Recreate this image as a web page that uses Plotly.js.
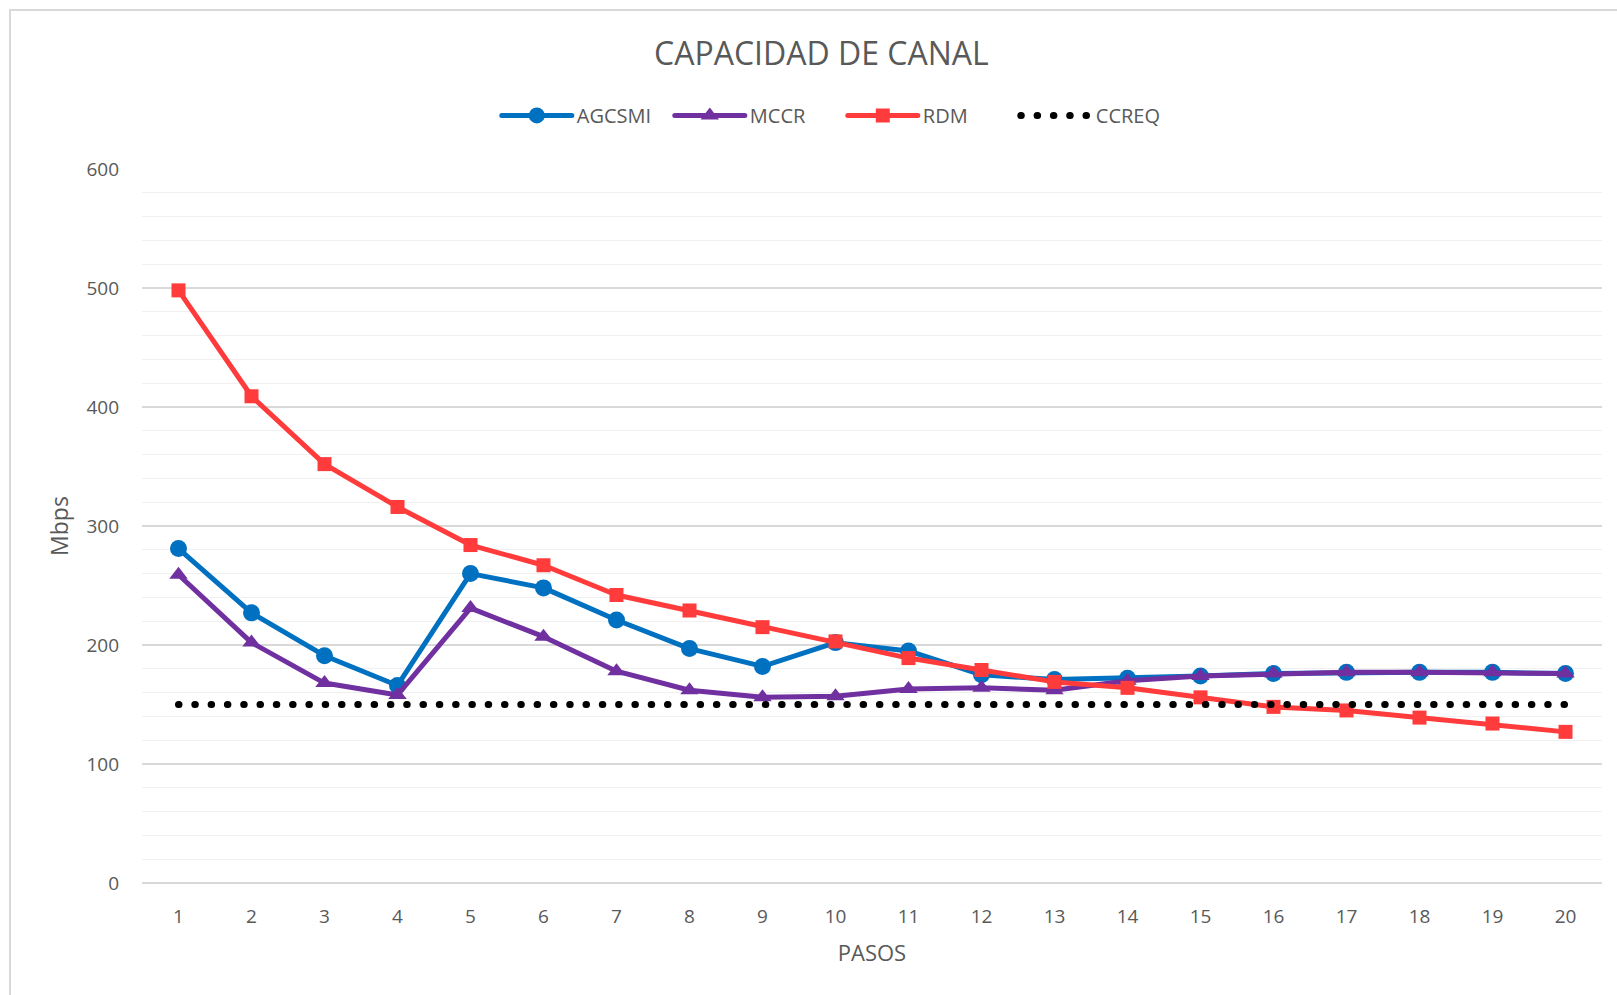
<!DOCTYPE html>
<html>
<head>
<meta charset="utf-8">
<script src="https://cdn.plot.ly/plotly-3.0.1.min.js"></script>
<style>
  html, body { margin: 0; padding: 0; background: #ffffff; }
  #frame { position: absolute; left: 9px; top: 9px; width: 1640px; height: 1020px; border: 2px solid #d9d9d9; box-sizing: border-box; pointer-events: none; z-index: 5; }
  #chart { position: absolute; left: 0; top: 0; width: 1617px; height: 995px; }
  .scatterlayer path.js-line { stroke-linecap: round !important; stroke-linejoin: round !important; }
  .legend path.js-line { stroke-linecap: round !important; }
</style>
</head>
<body>
<div id="chart"></div>
<div id="frame"></div>
<script>
const pasos = ['1','2','3','4','5','6','7','8','9','10','11','12','13','14','15','16','17','18','19','20'];
const agcsmi = [281, 227, 191, 166, 260, 248, 221, 197, 182, 202, 195, 175, 171, 172, 174, 176, 177, 177, 177, 176];
const mccr   = [259, 202, 168, 158, 231, 207, 178, 162, 156, 157, 163, 164, 162, 170, 174, 176, 177, 177, 177, 176];
const rdm    = [498, 409, 352, 316, 284, 267, 242, 229, 215, 203, 189, 179, 169, 164, 156, 148, 145, 139, 134, 127];
const ccreq  = [150, 150, 150, 150, 150, 150, 150, 150, 150, 150, 150, 150, 150, 150, 150, 150, 150, 150, 150, 150];

const font = 'Open Sans, sans-serif';
const txt = '#595959';

const traces = [
  { name: 'AGCSMI', x: pasos, y: agcsmi, type: 'scatter', mode: 'lines+markers',
    line: { color: '#0070C0', width: 5 }, marker: { symbol: 'circle', size: 17, color: '#0070C0' } },
  { name: 'MCCR', x: pasos, y: mccr, type: 'scatter', mode: 'lines+markers',
    line: { color: '#7030A0', width: 5 }, marker: { symbol: 'triangle-up', size: 16, color: '#7030A0' } },
  { name: 'RDM', x: pasos, y: rdm, type: 'scatter', mode: 'lines+markers',
    line: { color: '#FF3B3B', width: 5 }, marker: { symbol: 'square', size: 14, color: '#FF3B3B' } },
  { name: 'CCREQ', x: pasos, y: ccreq, type: 'scatter', mode: 'lines',
    line: { color: '#000000', width: 7, dash: '0.5px,15.8px' } }
];

const layout = {
  width: 1617, height: 995,
  paper_bgcolor: '#ffffff', plot_bgcolor: '#ffffff',
  margin: { l: 142, r: 15, t: 169, b: 112 },
  font: { family: font, color: txt, size: 19 },
  title: { text: 'CAPACIDAD DE CANAL', font: { family: font, size: 32, color: txt }, x: 0.508, xanchor: 'center', y: 0.946, yanchor: 'middle' },
  showlegend: true,
  legend: { orientation: 'h', x: 0.48, xanchor: 'center', y: 1.075, yanchor: 'middle',
            font: { family: font, size: 20, color: txt }, itemwidth: 70,
            entrywidth: 88, entrywidthmode: 'pixels', traceorder: 'normal' },
  xaxis: {
    type: 'category', range: [-0.5, 19.5], showgrid: false, zeroline: false, showline: false,
    ticks: '', ticklabelstandoff: 20,
    tickfont: { family: font, size: 19, color: txt },
    title: { text: 'PASOS', font: { family: font, size: 22, color: txt }, standoff: 17 }
  },
  yaxis: {
    range: [0, 600], dtick: 100, tick0: 0, showgrid: true, gridcolor: '#d9d9d9', gridwidth: 1.3,
    zeroline: true, zerolinecolor: '#d9d9d9', zerolinewidth: 1.3, showline: false,
    minor: { dtick: 20, showgrid: true, gridcolor: '#f0f0f0', gridwidth: 1.3, ticks: '' },
    ticks: '', ticklabelstandoff: 22,
    tickfont: { family: font, size: 19, color: txt },
    title: { text: 'Mbps', font: { family: font, size: 23, color: txt }, standoff: 11 }
  }
};

Plotly.newPlot('chart', traces, layout, { displayModeBar: false, staticPlot: true });
</script>
</body>
</html>
